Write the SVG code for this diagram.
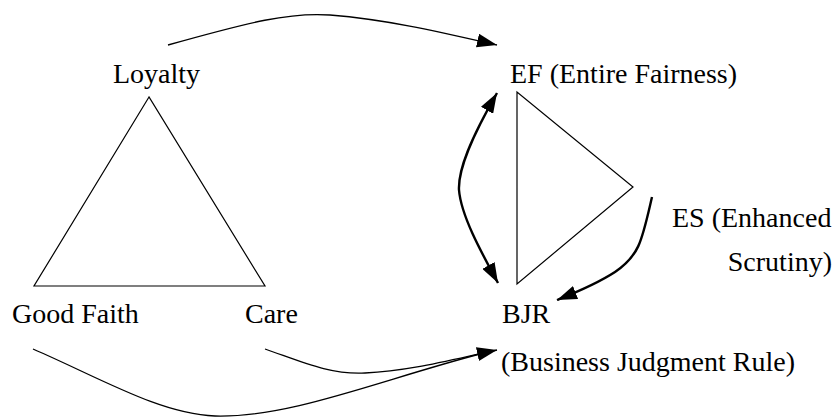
<svg xmlns="http://www.w3.org/2000/svg" width="836" height="417" viewBox="0 0 836 417">
<style>
text{font-family:"Liberation Serif","Times New Roman",serif;font-size:28px;fill:#000}
.tri{fill:none;stroke:#000;stroke-width:1.2}
.thin{fill:none;stroke:#000;stroke-width:1.3}
.thick{fill:none;stroke:#000;stroke-width:2.4}
</style>
<defs>
<marker id="ah2" viewBox="0 0 20 14" refX="20" refY="7" markerWidth="20" markerHeight="14" markerUnits="userSpaceOnUse" orient="auto-start-reverse">
<path d="M0,0 L20,7 L0,14 z" fill="#000"/>
</marker>
</defs>
<g id="loyalty-triangle">
<path class="tri" d="M149,97 L34,286 L265,286 Z"/>
<text x="113" y="83">Loyalty</text>
<text x="12" y="323">Good Faith</text>
<text x="245" y="323">Care</text>
</g>
<g id="standards-triangle">
<path class="tri" d="M517,92 L517,284 L633,187 Z"/>
<text x="510" y="83">EF (Entire Fairness)</text>
<text x="672" y="227">ES (Enhanced</text>
<text x="832" y="271" text-anchor="end">Scrutiny)</text>
<text x="502" y="323">BJR</text>
<text x="501" y="371">(Business Judgment Rule)</text>
</g>
<g id="connectors">
<path class="thin" marker-end="url(#ah2)" d="M168,45 C250,22 290,12 330,15 C390,20 440,32 497,45"/>
<path class="thick" marker-start="url(#ah2)" marker-end="url(#ah2)" d="M497,93 C470,140 458,170 459,190 C461,215 480,250 498,283"/>
<path class="thick" marker-end="url(#ah2)" d="M652,197 C642,240 640,255 615,272 C595,285 572,294 557,300"/>
<path class="thin" d="M33,349 C100,378 160,414 215,416 C290,418 380,380 480,354"/>
<path class="thin" marker-end="url(#ah2)" d="M265,349 C300,361 330,375 365,373 C410,371 450,360 497,350"/>
</g>
</svg>
